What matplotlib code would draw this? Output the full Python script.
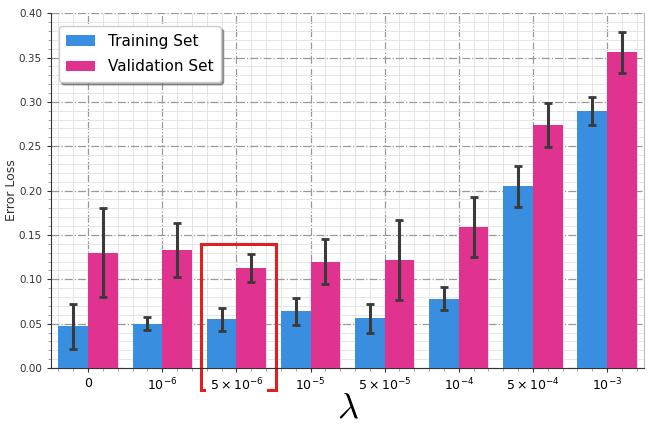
import numpy as np
import matplotlib.pyplot as plt
from matplotlib.patches import Rectangle
from matplotlib.ticker import MultipleLocator

lambdas = ['0', '$10^{-6}$', '$5\\times10^{-6}$', '$10^{-5}$', '$5\\times10^{-5}$',
           '$10^{-4}$', '$5\\times10^{-4}$', '$10^{-3}$']
train = [0.047, 0.050, 0.055, 0.064, 0.056, 0.078, 0.205, 0.290]
train_err = [0.025, 0.007, 0.013, 0.015, 0.016, 0.013, 0.023, 0.016]
valid = [0.130, 0.133, 0.113, 0.120, 0.122, 0.159, 0.274, 0.356]
valid_err = [0.050, 0.030, 0.016, 0.025, 0.045, 0.034, 0.025, 0.023]
highlight = 2

fig = plt.figure(figsize=(6.5, 4.24), dpi=100)
ax = fig.add_axes([0.0785, 0.132, 0.9125, 0.837])

x = np.arange(len(lambdas))
w = 0.4
ekw = dict(ecolor='#3a3a3a', elinewidth=2.2, capsize=3, capthick=2)
ax.bar(x - w/2, train, w, yerr=train_err, color='#3a8ee0', label='Training Set',
       error_kw=ekw, zorder=3)
ax.bar(x + w/2, valid, w, yerr=valid_err, color='#e0338f', label='Validation Set',
       error_kw=ekw, zorder=3)

ax.set_xlim(-0.5, len(lambdas) - 0.5)
ax.set_ylim(0, 0.40)
ax.set_xticks(x)
# the highlighted label is drawn separately below so it can mask the box edge
ax.set_xticklabels(['' if i == highlight else l for i, l in enumerate(lambdas)], fontsize=9)
ax.yaxis.set_major_locator(MultipleLocator(0.05))
ax.yaxis.set_minor_locator(MultipleLocator(0.01))
ax.xaxis.set_minor_locator(MultipleLocator(0.2))
ax.tick_params(axis='y', labelsize=7.5, length=3, colors='#333333')
ax.tick_params(axis='x', length=3, colors='#333333', labelcolor='black')
ax.tick_params(which='minor', length=2, colors='#999999')
ax.grid(which='major', linestyle='-.', color='#999999', linewidth=0.9)
ax.grid(which='minor', linestyle='-', color='#e6e6e6', linewidth=0.7)
ax.set_axisbelow(True)

for s in ['left', 'bottom']:
    ax.spines[s].set_color('#333333')
ax.spines['right'].set_color('#bbbbbb')
ax.spines['top'].set_visible(False)

ax.set_ylabel('Error Loss', fontsize=9, color='#333333')
ax.yaxis.set_label_coords(-0.056, 0.5)
ax.set_xlabel('$\\lambda$', fontsize=26, math_fontfamily='cm', labelpad=-2)

ax.legend(loc='upper left', fontsize=11, shadow=True, fancybox=True,
          handlelength=1.9, borderpad=0.5, labelspacing=0.7, framealpha=1,
          bbox_to_anchor=(0.0, 0.985))

rect = Rectangle((highlight - 0.48, -0.025), 1.02, 0.165, fill=False,
                 edgecolor='#e02020', linewidth=2.2, clip_on=False, zorder=2)
ax.add_patch(rect)
ax.annotate(lambdas[highlight], xy=(highlight, 0), xycoords=ax.get_xaxis_transform(),
            xytext=(0, -6.5), textcoords='offset points', ha='center', va='top',
            fontsize=9, zorder=6, annotation_clip=False,
            bbox=dict(facecolor='white', edgecolor='none', pad=2.5))

fig.savefig('out.png', dpi=100)
